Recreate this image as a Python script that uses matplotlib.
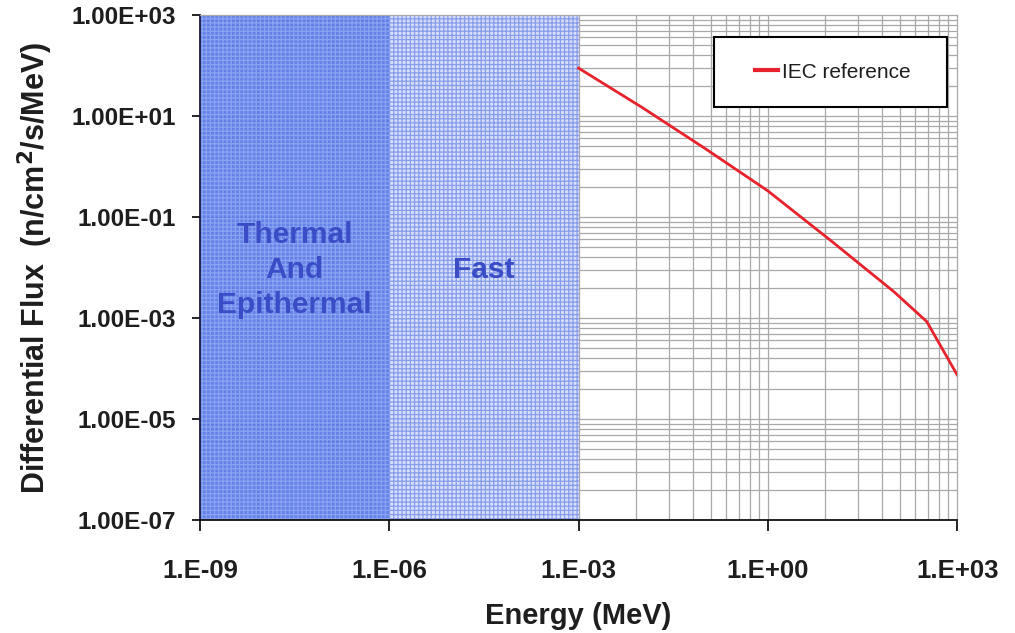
import numpy as np
import matplotlib
matplotlib.use("Agg")
import matplotlib.pyplot as plt
from matplotlib.patches import Rectangle

# IEC reference spectrum
energy = [1e-3, 1e-2, 1e-1, 1e0, 1e1, 1e2, 330.0, 1e3]
flux = [89.0, 15.0, 2.3, 0.33, 0.034, 3.3e-3, 8.5e-4, 7.5e-5]

x_ticks = [1e-9, 1e-6, 1e-3, 1e0, 1e3]
x_labels = ["1.E-09", "1.E-06", "1.E-03", "1.E+00", "1.E+03"]
y_ticks = [1e-7, 1e-5, 1e-3, 1e-1, 1e1, 1e3]
y_labels = ["1.00E-07", "1.00E-05", "1.00E-03", "1.00E-01", "1.00E+01", "1.00E+03"]

regions = [(1e-9, 1e-6, "Thermal\nAnd\nEpithermal"), (1e-6, 1e-3, "Fast")]

FONT = "Liberation Sans"

fig = plt.figure(figsize=(10.15, 6.33), dpi=100)
ax = fig.add_axes([0.197, 0.1785, 0.746, 0.7977])
ax.set_xscale("log")
ax.set_yscale("log")
ax.set_xlim(1e-9, 1e3)
ax.set_ylim(1e-7, 1e3)

# excel style gridlines: minor lines at major*k^3 (x) and major*k^2 (y)
grid_kw = dict(color="#a8a8a8", lw=0.9, zorder=0.5)
for m in x_ticks[:-1]:
    for k in range(1, 10):
        ax.axvline(m * k ** 3, **grid_kw)
for m in y_ticks[:-1]:
    for k in range(1, 10):
        ax.axhline(m * k ** 2, **grid_kw)

# shaded energy ranges (patterned fill like the excel original)
plt.rcParams["hatch.linewidth"] = 0.9
ax.axvspan(regions[0][0], regions[0][1], facecolor="#5879e6", edgecolor="#8da5f3",
           hatch="++++", lw=0, alpha=0.92, zorder=0.8)
ax.axvspan(regions[1][0], regions[1][1], facecolor="#d3dcfb", edgecolor="#8096ea",
           hatch="++++", lw=0, alpha=0.9, zorder=0.8)
for lo, hi, name in regions:
    ax.text(np.sqrt(lo * hi), 0.495, name, transform=ax.get_xaxis_transform(),
            ha="center", va="center", fontsize=21.5, fontweight="bold",
            color="#3a4cc6", family=FONT, linespacing=1.3, zorder=3)

ax.plot(energy, flux, color="#e8222c", lw=2.0, zorder=4, label="IEC reference")

ax.set_xticks(x_ticks)
ax.set_xticklabels(x_labels)
ax.set_yticks(y_ticks)
ax.set_yticklabels(y_labels)
ax.minorticks_off()
ax.tick_params(axis="x", length=8, width=1.2, pad=20, labelsize=18.5)
ax.tick_params(axis="y", length=6, width=1.2, pad=11, labelsize=17.5)
for lab in ax.get_xticklabels() + ax.get_yticklabels():
    lab.set_family(FONT)
    lab.set_fontweight("bold")
    lab.set_color("#1e1e1e")

for s in ["top", "right"]:
    ax.spines[s].set_color("#a8a8a8")
    ax.spines[s].set_linewidth(0.9)
ax.spines["left"].set_color("#1a1a40")
ax.spines["bottom"].set_color("#111111")
ax.spines["left"].set_linewidth(1.3)
ax.spines["bottom"].set_linewidth(1.3)

ax.set_xlabel("Energy (MeV)", fontsize=21, fontweight="bold", family=FONT,
              labelpad=14, color="#1e1e1e")
ax.set_ylabel(r"Differential Flux  (n/cm$^{\mathbf{2}}$/s/MeV)", fontsize=22,
              fontweight="bold", family=FONT, labelpad=12, color="#1e1e1e")

# legend box
ax.add_patch(Rectangle((0.679, 0.818), 0.308, 0.138, transform=ax.transAxes,
                       facecolor="white", edgecolor="black", lw=1.5, zorder=5))
leg = ax.legend(loc="center", bbox_to_anchor=(0.836, 0.887), frameon=False,
                handlelength=1.1, handletextpad=0.2,
                prop=dict(family=FONT, size=15))
leg.set_zorder(6)
for t in leg.get_texts():
    t.set_color("#1e1e1e")
for h in leg.get_lines():
    h.set_linewidth(3)

fig.savefig("out.png", dpi=100)
